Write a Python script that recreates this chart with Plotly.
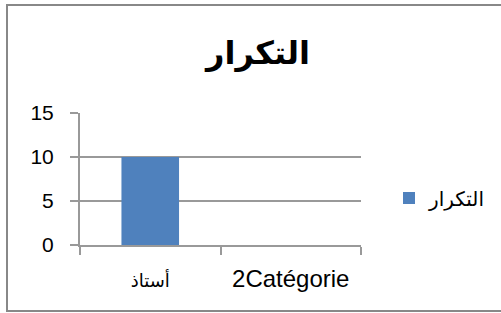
import plotly.graph_objects as go

categories = ["أستاذ", "2Catégorie"]
category_labels = ["<span style='font-size:18px'>أستاذ</span>",
                   "<span style='font-size:24px'>2Catégorie</span>"]
values = [10, None]
series_name = "التكرار"
title_text = "التكرار"
y_ticks = [0, 5, 10, 15]

W, H = 501, 313
L, R, T, B = 80, 361, 113, 245
pw, ph = R - L, B - T

def px_x(x):
    return (x - L) / pw

def px_y(y):
    return (B - y) / ph

fig = go.Figure()
fig.add_trace(go.Bar(
    x=categories, y=values, name=series_name,
    marker=dict(color="#4f81bd", line=dict(width=0)),
    width=0.41, showlegend=True,
))

fig.update_layout(
    width=W, height=H,
    margin=dict(l=L, r=W - R, t=T, b=H - B, pad=0, autoexpand=False),
    paper_bgcolor="white", plot_bgcolor="white",
    font=dict(family="Liberation Sans, Arial, DejaVu Sans", color="black"),
    title=dict(text="<b>" + title_text + "</b>", xref="container", yref="container",
               x=258 / W, y=1 - 53 / H, xanchor="center", yanchor="middle",
               font=dict(size=32, color="black")),
    showlegend=True,
    legend=dict(x=px_x(389), y=px_y(198), xanchor="left", yanchor="middle",
                font=dict(size=20), bgcolor="rgba(0,0,0,0)",
                itemwidth=30),
    xaxis=dict(type="category", tickson="boundaries", ticks="outside", ticklen=8,
               tickmode="array", tickvals=categories, ticktext=category_labels,
               tickcolor="#999999", tickwidth=2, showline=True, linecolor="#999999",
               linewidth=2, showgrid=False, tickfont=dict(size=17),
               ticklabelstandoff=20),
    yaxis=dict(range=[0, 15], tickvals=y_ticks, ticks="outside", ticklen=8,
               tickcolor="#999999", tickwidth=2, showline=True, linecolor="#999999",
               linewidth=2, showgrid=True, gridcolor="#999999", gridwidth=2,
               zeroline=False, tickfont=dict(size=21), ticklabelstandoff=12),
    shapes=[dict(type="rect", xref="paper", yref="paper",
                 x0=px_x(7), x1=px_x(520), y0=px_y(311), y1=px_y(5),
                 line=dict(color="#888888", width=2), layer="below")],
)

fig.write_html("out.html", config={"displayModeBar": False},
               post_script="document.body.style.margin='0';document.body.style.padding='0';")
